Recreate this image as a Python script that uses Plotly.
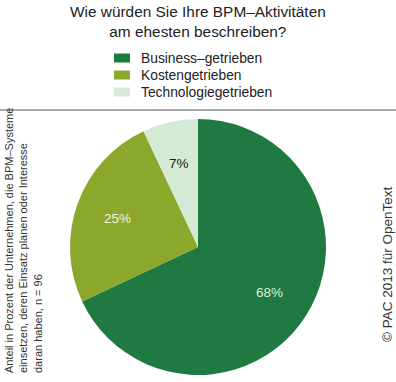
import math
import plotly.graph_objects as go

categories = ["Business\u2013getrieben", "Kostengetrieben", "Technologiegetrieben"]
values = [68, 25, 7]
colors = ["#1e7a40", "#8ba82d", "#d4ead4"]
text_colors = ["#dcefdc", "#f3f6e2", "#1a1a1a"]

title_text = "Wie w\u00fcrden Sie Ihre BPM\u2013Aktivit\u00e4ten<br>am ehesten beschreiben?"
note_text = ("Anteil in Prozent der Unternehmen, die BPM\u2013Systeme<br>"
             "einsetzen, deren Einsatz planen oder Interesse<br>"
             "daran haben, n = 96")
copyright_text = "\u00a9 PAC 2013 f\u00fcr OpenText"

W, H = 396, 382
FONT = "Liberation Sans, Arial, Helvetica, sans-serif"

# pie geometry (pixels from top-left)
CX, CY, R = 198, 247, 128
dom_x = [(CX - R) / W, (CX + R) / W]
dom_y = [(H - CY - R) / H, (H - CY + R) / H]

fig = go.Figure(go.Pie(
    labels=categories,
    values=values,
    sort=False,
    direction="clockwise",
    rotation=0,
    marker=dict(colors=colors, line=dict(width=0)),
    textinfo="none",
    domain=dict(x=dom_x, y=dom_y),
    hoverinfo="skip",
    showlegend=False,
))

annotations = []
shapes = []

# percentage labels placed at 2/3 of the radius on each slice's mid-angle
total = sum(values)
cum = 0
for v, tc in zip(values, text_colors):
    mid = (cum + v / 2) / total * 2 * math.pi  # clockwise from 12 o'clock
    cum += v
    px = CX + 0.665 * R * math.sin(mid)
    py = CY - 0.665 * R * math.cos(mid)
    annotations.append(dict(
        text=f"{v}%", x=px / W, y=(H - py) / H, xref="paper", yref="paper",
        xanchor="center", yanchor="middle", showarrow=False,
        font=dict(size=13.5, family=FONT, color=tc)))

# legend (swatch + label per category)
LEG_X, LEG_Y0, LEG_DY = 114, 58, 17
for i, (cat, col) in enumerate(zip(categories, colors)):
    cy = LEG_Y0 + i * LEG_DY
    shapes.append(dict(type="rect", xref="paper", yref="paper",
                       x0=LEG_X / W, x1=(LEG_X + 16) / W,
                       y0=(H - cy - 4.5) / H, y1=(H - cy + 4.5) / H,
                       fillcolor=col, line=dict(width=0)))
    annotations.append(dict(
        text=cat, x=(LEG_X + 25) / W, y=(H - cy) / H, xref="paper", yref="paper",
        xanchor="left", yanchor="middle", showarrow=False,
        font=dict(size=13.8, family=FONT, color="#222")))

shapes.append(dict(type="line", xref="paper", yref="paper",
                   x0=0, x1=1, y0=(H - 110) / H, y1=(H - 110) / H,
                   line=dict(color="#555555", width=1)))

annotations += [
    dict(text=title_text, x=0.5, y=1 - 1 / H, xref="paper", yref="paper",
         xanchor="center", yanchor="top", showarrow=False,
         font=dict(size=15.4, family=FONT, color="#222")),
    dict(text=note_text, x=1 / W, y=7 / H, xref="paper", yref="paper",
         xanchor="left", yanchor="bottom", showarrow=False,
         textangle=-90, align="left",
         font=dict(size=11, family=FONT, color="#333")),
    dict(text=copyright_text, x=387 / W, y=(H - 264) / H,
         xref="paper", yref="paper",
         xanchor="center", yanchor="middle", showarrow=False,
         textangle=-90,
         font=dict(size=13.5, family=FONT, color="#333")),
]

fig.update_layout(
    width=W, height=H,
    margin=dict(l=0, r=0, t=0, b=0),
    paper_bgcolor="white",
    plot_bgcolor="white",
    font=dict(family=FONT, color="#222"),
    showlegend=False,
    shapes=shapes,
    annotations=annotations,
)

fig.write_html("out.html",
               config=dict(displayModeBar=False),
               post_script="document.body.style.margin='0';document.body.style.padding='0';")
